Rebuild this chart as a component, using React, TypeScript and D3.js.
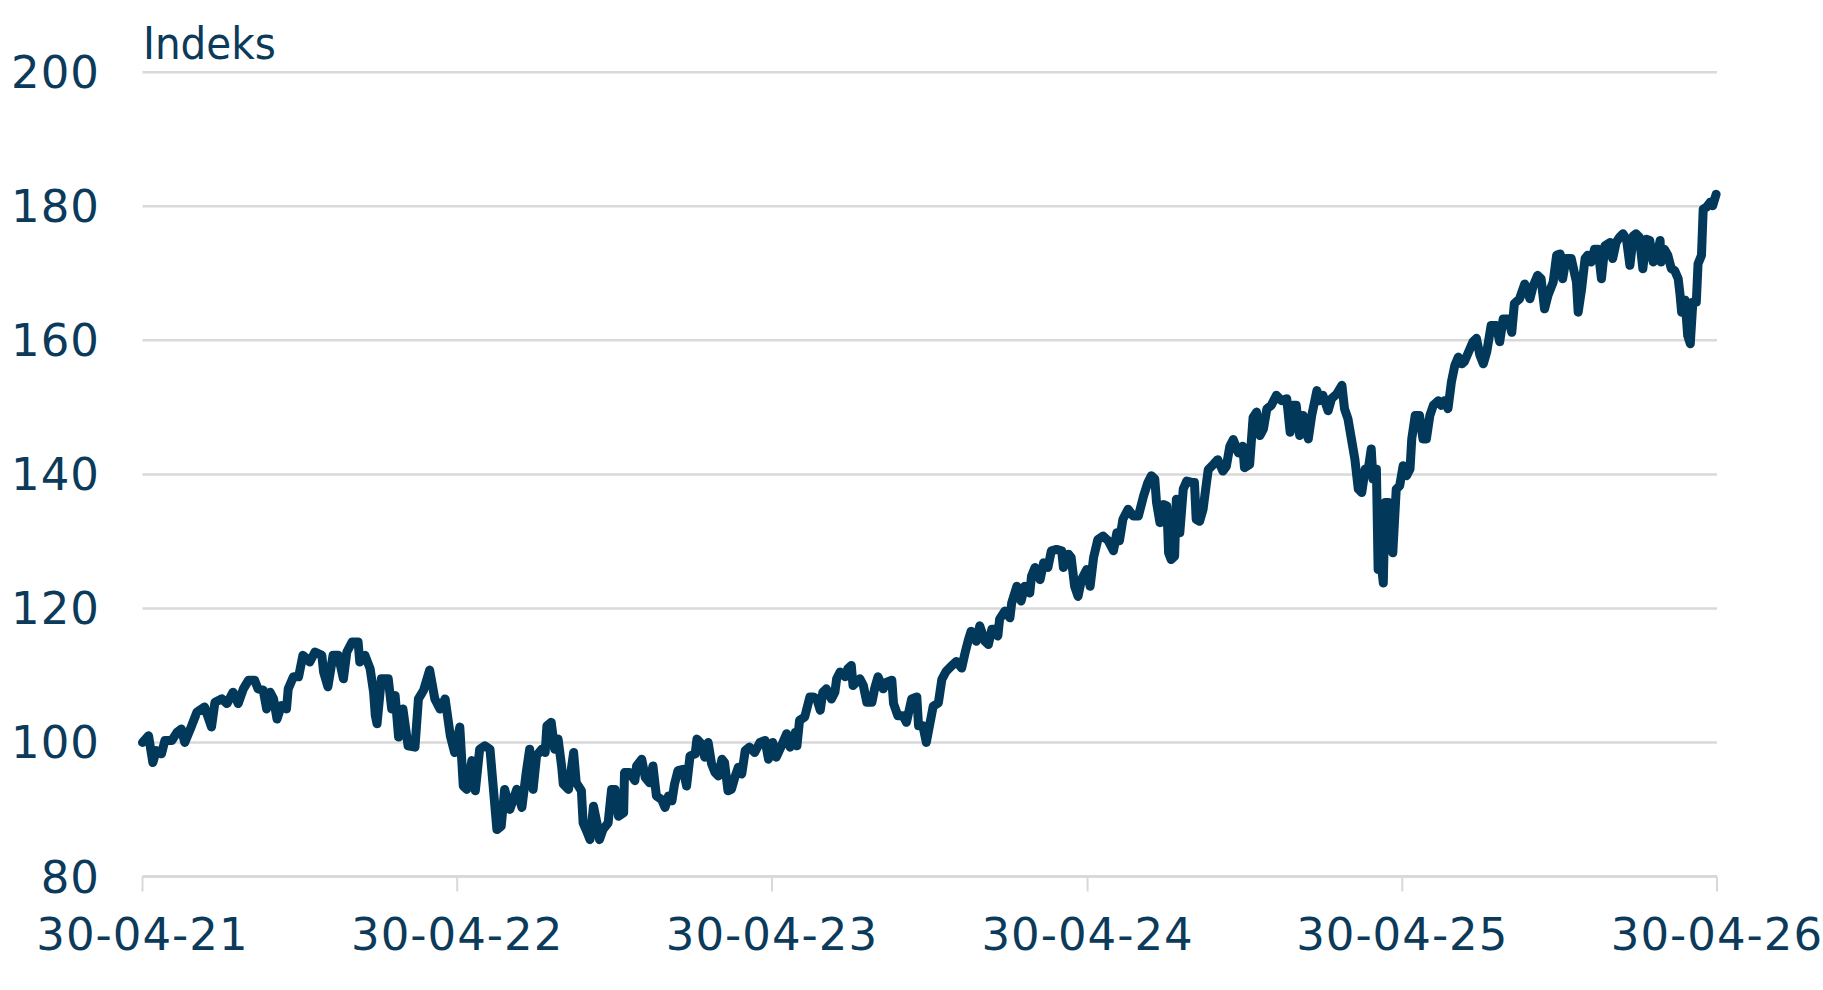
import * as d3 from "d3";
import React, { useEffect, useRef } from "react";

// days after 30-04-21
const days: number[] = [
	0, 7, 12, 16, 22, 26, 34, 40, 45, 49, 57, 63, 72, 80, 84, 92, 98, 105, 111, 117,
	123, 130, 134, 140, 144, 148, 152, 156, 161, 167, 169, 175, 181, 186, 194, 200, 208, 210, 215, 221,
	227, 233, 237, 243, 250, 252, 258, 264, 268, 270, 272, 277, 285, 289, 293, 297, 302, 308, 316, 320,
	326, 333, 339, 345, 351, 357, 362, 368, 372, 376, 382, 386, 391, 397, 403, 411, 416, 420, 426, 434,
	440, 445, 449, 453, 457, 463, 467, 469, 474, 478, 482, 486, 488, 494, 500, 503, 509, 511, 515, 519,
	523, 527, 530, 534, 540, 544, 548, 552, 558, 559, 565, 571, 573, 579, 583, 588, 592, 596, 602, 606,
	610, 614, 617, 621, 627, 631, 635, 641, 643, 648, 652, 656, 660, 664, 668, 672, 675, 679, 683, 687,
	691, 695, 699, 704, 710, 716, 722, 726, 731, 735, 741, 747, 751, 757, 759, 762, 768, 774, 778, 782,
	786, 789, 793, 799, 803, 805, 809, 815, 818, 822, 824, 832, 836, 840, 846, 849, 853, 859, 863, 869,
	871, 876, 882, 886, 892, 898, 900, 905, 909, 917, 923, 927, 932, 938, 944, 950, 954, 958, 961, 967,
	971, 977, 981, 985, 988, 992, 994, 1000, 1006, 1008, 1014, 1019, 1023, 1029, 1031, 1035, 1041, 1045, 1050, 1054,
	1060, 1066, 1068, 1074, 1077, 1081, 1085, 1089, 1095, 1099, 1103, 1108, 1114, 1120, 1126, 1130, 1133, 1137, 1143, 1149,
	1155, 1161, 1166, 1170, 1174, 1176, 1180, 1184, 1188, 1190, 1193, 1197, 1199, 1203, 1207, 1211, 1217, 1220, 1222, 1226,
	1230, 1234, 1236, 1242, 1247, 1253, 1257, 1261, 1265, 1271, 1276, 1278, 1284, 1288, 1292, 1296, 1300, 1304, 1309, 1315,
	1321, 1327, 1331, 1334, 1338, 1342, 1346, 1352, 1356, 1362, 1365, 1369, 1375, 1379, 1385, 1391, 1394, 1398, 1402, 1406,
	1410, 1414, 1418, 1421, 1425, 1427, 1431, 1433, 1437, 1439, 1441, 1445, 1447, 1450, 1454, 1458, 1462, 1466, 1470, 1472,
	1476, 1481, 1485, 1489, 1493, 1497, 1503, 1506, 1510, 1514, 1518, 1522, 1526, 1530, 1533, 1537, 1543, 1547, 1551, 1555,
	1559, 1564, 1570, 1574, 1578, 1584, 1588, 1591, 1597, 1603, 1609, 1613, 1618, 1622, 1626, 1630, 1636, 1640, 1644, 1647,
	1651, 1657, 1663, 1665, 1669, 1673, 1676, 1680, 1684, 1688, 1692, 1696, 1702, 1705, 1709, 1713, 1717, 1721, 1725, 1729,
	1732, 1736, 1740, 1744, 1748, 1752, 1756, 1760, 1761, 1765, 1769, 1773, 1777, 1781, 1783, 1785, 1789, 1792, 1795, 1798,
	1802, 1804, 1808, 1810, 1814, 1818, 1821, 1825,
];

const indexValues: number[] = [
	100, 101, 97, 98.8, 98.3, 100.3, 100.3, 101.5, 102, 100, 102.5, 104.5, 105.3, 102.3, 106, 106.5, 105.8, 107.5, 105.8, 108,
	109.3, 109.3, 108, 107.8, 105, 107.5, 106.5, 103.5, 105.5, 105, 108, 109.8, 109.8, 113, 112, 113.5, 113, 110.5, 108.3, 113,
	113, 109.5, 113.5, 115, 115, 112, 113, 111, 107.5, 104, 102.8, 109.5, 109.5, 105, 107, 100.8, 105, 99.5, 99.3, 106.5,
	107.8, 110.8, 106.5, 105, 106.5, 101, 98.5, 102.3, 93.5, 93, 97.3, 92.8, 99, 99.5, 99, 87, 87.5, 93, 90, 93,
	90.3, 95.5, 99, 93, 98, 99, 98.5, 102.5, 103, 99, 100.5, 96.5, 93.8, 93, 98.5, 94, 92.8, 88, 86.8, 85.5,
	90.5, 88, 85.5, 87, 88, 93, 93, 89, 89.5, 95.5, 95.5, 94.3, 96.5, 97.5, 94.8, 94, 96.5, 92, 91.5, 90.3,
	92, 91.3, 93.8, 95.8, 96, 93.5, 98, 98.3, 100.5, 99.8, 97.8, 100, 96.8, 95.5, 95, 97.5, 97, 92.8, 93, 94.8,
	96.3, 95.3, 98.8, 99.3, 98.5, 100, 100.3, 97.5, 100, 97.8, 99.5, 101.3, 99.3, 101.5, 99.5, 103.3, 103.8, 106.8, 106.8, 106.5,
	104.8, 107.5, 108, 106.5, 107.5, 109.5, 110.5, 109.8, 111, 111.5, 108.5, 109.5, 108.5, 106, 106, 108, 109.8, 108, 109, 109.3,
	105.8, 104, 104, 103, 106.5, 106.8, 102.5, 102.5, 100, 105.4, 105.9, 109.4, 110.6, 111.4, 112.1, 111.1, 113.4, 115.4, 116.6, 115.1,
	117.4, 115.1, 114.6, 116.9, 116.9, 115.9, 118.4, 119.6, 118.6, 120.8, 123.3, 121.1, 123.3, 122.3, 124.8, 126.1, 124.3, 126.8, 126.1, 128.6,
	128.8, 128.6, 126.1, 128.1, 127.6, 123.3, 121.8, 124.3, 125.8, 123.3, 127.6, 130.3, 130.8, 130.1, 128.6, 131.3, 130.1, 133.3, 134.8, 133.8,
	133.8, 136.8, 138.8, 139.8, 139.3, 135.8, 132.8, 135.5, 135.3, 128.3, 127.3, 127.8, 136.3, 131.3, 137.8, 139, 138.8, 138.8, 133.3, 133,
	134.8, 138.8, 140.7, 141.5, 142.2, 140.5, 141.2, 144.2, 145.2, 143.2, 144.2, 141, 141.5, 148.5, 149.3, 145.8, 146.8, 149.8, 150.3, 151.8,
	151, 151.3, 146.3, 150.3, 150.3, 145.8, 148.8, 145.3, 148.8, 152.5, 151, 151.8, 149.5, 151.3, 152, 153.3, 149.8, 148.3, 145.3, 142.3,
	137.8, 137.3, 140.8, 140.3, 143.8, 139.3, 140.8, 125.8, 126.3, 123.8, 135.8, 135.8, 133.8, 128.3, 137.8, 138.3, 141.3, 139.8, 140.8, 145.3,
	148.8, 148.8, 145.3, 145.3, 148.8, 150.3, 151, 150.3, 151, 149.8, 153.8, 156.3, 157.5, 156.5, 156.8, 158, 159.8, 160.3, 157.8, 156.5,
	158.3, 162.2, 162.2, 159.8, 163.2, 163.2, 161.2, 165.5, 166.2, 168.4, 166.2, 168.2, 169.7, 169.2, 164.7, 166.7, 168.7, 172.7, 172.9, 169.2,
	172.2, 172.2, 168.7, 164.2, 167.7, 172.2, 172.7, 171.7, 173.6, 173.6, 169.2, 174.1, 174.6, 172.2, 174.6, 175.4, 175.9, 175.1, 171.2, 175.6,
	175.9, 175.4, 170.7, 175.1, 174.9, 171.7, 172.2, 174.9, 171.7, 173.6, 172.7, 170.7, 170.4, 169.2, 167, 164.2, 166, 160.7, 159.5, 165.7,
	165.7, 171.4, 172.7, 179.6, 179.9, 180.6, 180.1, 181.8,
];

const yTicks: number[] = [80, 100, 120, 140, 160, 180, 200];
const xTickYears: number[] = [2021, 2022, 2023, 2024, 2025, 2026];
const yTitle = "Indeks";

const App = () => {
	const ref = useRef<SVGSVGElement>(null);

	useEffect(() => {
		const width = 1823;
		const height = 990;
		const left = 142.5;
		const right = 1717;
		const top = 72.3;
		const bottom = 876.5;
		const navy = "#0b3a5a";
		const lineColor = "#02385a";
		const grey = "#d9d9d9";
		const numFont = "'DejaVu Sans', sans-serif";

		const svg = d3.select(ref.current);
		svg.selectAll("*").remove();
		svg.attr("width", width).attr("height", height);

		const start = new Date(2021, 3, 30);
		const end = new Date(2026, 3, 30);
		const xScale = d3.scaleTime().domain([start, end]).range([left, right]);
		const yScale = d3.scaleLinear().domain([80, 200]).range([bottom, top]);

		// gridlines (the one at 80 doubles as the x-axis line)
		svg.append("g")
			.selectAll("line")
			.data(yTicks)
			.join("line")
			.attr("x1", left)
			.attr("x2", right)
			.attr("y1", (d) => yScale(d))
			.attr("y2", (d) => yScale(d))
			.attr("stroke", grey)
			.attr("stroke-width", (d) => (d === 80 ? 3 : 2.5));

		svg.append("g")
			.selectAll("text")
			.data(yTicks)
			.join("text")
			.attr("x", 100)
			.attr("y", (d) => yScale(d) + 16)
			.attr("text-anchor", "end")
			.attr("font-family", numFont)
			.attr("font-size", 45)
			.attr("letter-spacing", 1)
			.attr("fill", navy)
			.text((d) => d);

		const tickDates = xTickYears.map((y) => new Date(y, 3, 30));
		const fmt = d3.timeFormat("%d-%m-%y");

		svg.append("g")
			.selectAll("line")
			.data(tickDates)
			.join("line")
			.attr("x1", (d) => xScale(d))
			.attr("x2", (d) => xScale(d))
			.attr("y1", bottom)
			.attr("y2", bottom + 15)
			.attr("stroke", grey)
			.attr("stroke-width", 2);

		svg.append("g")
			.selectAll("text")
			.data(tickDates)
			.join("text")
			.attr("x", (d) => xScale(d))
			.attr("y", 950)
			.attr("text-anchor", "middle")
			.attr("font-family", numFont)
			.attr("font-size", 45)
			.attr("letter-spacing", 1)
			.attr("fill", navy)
			.text((d) => fmt(d));

		svg.append("text")
			.attr("x", 143)
			.attr("y", 59)
			.attr("font-family", "'DejaVu Sans Condensed', 'DejaVu Sans', sans-serif")
			.attr("font-size", 45)
			.attr("fill", navy)
			.text(yTitle);

		const data = days.map((d, i) => ({
			date: d3.timeDay.offset(start, d),
			value: indexValues[i],
		}));

		const line = d3
			.line<{ date: Date; value: number }>()
			.x((d) => xScale(d.date))
			.y((d) => yScale(d.value));

		svg.append("path")
			.datum(data)
			.attr("fill", "none")
			.attr("stroke", lineColor)
			.attr("stroke-width", 9)
			.attr("stroke-linejoin", "round")
			.attr("stroke-linecap", "round")
			.attr("d", line);
	}, []);

	return (
		<svg
			ref={ref}
			style={{ position: "absolute", left: 0, top: 0, background: "#fff" }}
		/>
	);
};

export default App;
